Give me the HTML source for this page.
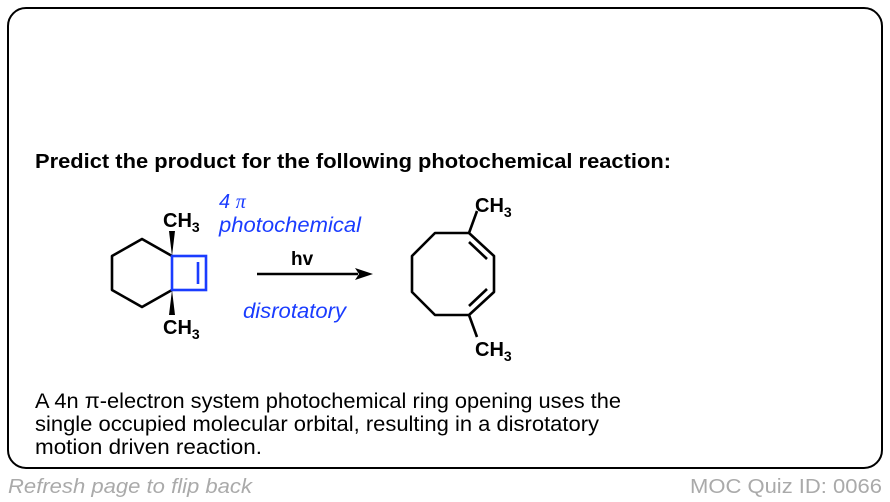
<!DOCTYPE html>
<html><head><meta charset="utf-8"><style>
html,body{margin:0;padding:0;background:#fff;}
svg{display:block;font-family:"Liberation Sans",Arial,sans-serif;}
</style></head><body>
<svg width="890" height="502" viewBox="0 0 890 502" xmlns="http://www.w3.org/2000/svg">
<rect x="8" y="8" width="874" height="460" rx="18" ry="18" fill="#fff" stroke="#000" stroke-width="2"/>
<text x="35" y="168" font-size="20" font-weight="bold" textLength="636" lengthAdjust="spacingAndGlyphs">Predict the product for the following photochemical reaction:</text>

<g stroke="#000" stroke-width="2.6" fill="none" stroke-linejoin="round">
<polyline points="172,256 142,239 112,256 112,290 142,307 172,290"/>
</g>
<g stroke="#1a3cff" stroke-width="2.6" fill="none">
<rect x="172" y="256" width="34" height="34"/>
<line x1="198" y1="262" x2="198" y2="284"/>
</g>
<polygon points="172,256 169,231 175,231" fill="#000"/>
<polygon points="172,290 169,315 175,315" fill="#000"/>
<text x="163" y="227" font-size="20" font-weight="bold">CH<tspan font-size="14" dy="5">3</tspan></text>
<text x="163" y="334" font-size="20" font-weight="bold">CH<tspan font-size="14" dy="5">3</tspan></text>

<text x="219" y="208" font-size="20" font-style="italic" fill="#1a3cff">4 <tspan font-family="Liberation Serif,serif">π</tspan></text>
<text x="219" y="232" font-size="21" font-style="italic" fill="#1a3cff" textLength="142" lengthAdjust="spacingAndGlyphs">photochemical</text>
<text x="291" y="265" font-size="19" font-weight="bold">hv</text>
<line x1="257" y1="274" x2="358" y2="274" stroke="#000" stroke-width="2.4"/>
<polygon points="373,274 355,268 359,274 355,280" fill="#000"/>
<text x="243" y="318" font-size="21" font-style="italic" fill="#1a3cff" textLength="103" lengthAdjust="spacingAndGlyphs">disrotatory</text>

<g stroke="#000" stroke-width="2.6" fill="none" stroke-linejoin="round">
<polygon points="469,233 435,233 412,256 412,292 435,315 469,315 494,292 494,256"/>
<line x1="469" y1="242" x2="487" y2="259"/>
<line x1="469" y1="306" x2="487" y2="289"/>
<line x1="469" y1="233" x2="477" y2="211"/>
<line x1="469" y1="315" x2="477" y2="337"/>
</g>
<text x="475" y="212" font-size="20" font-weight="bold">CH<tspan font-size="14" dy="5">3</tspan></text>
<text x="475" y="356" font-size="20" font-weight="bold">CH<tspan font-size="14" dy="5">3</tspan></text>

<text x="35" y="408" font-size="21" textLength="586" lengthAdjust="spacingAndGlyphs">A 4n π-electron system photochemical ring opening uses the</text>
<text x="35" y="431" font-size="21" textLength="564" lengthAdjust="spacingAndGlyphs">single occupied molecular orbital, resulting in a disrotatory</text>
<text x="35" y="454" font-size="21" textLength="227" lengthAdjust="spacingAndGlyphs">motion driven reaction.</text>

<text x="8" y="493" font-size="20" font-style="italic" fill="#aaa" textLength="244" lengthAdjust="spacingAndGlyphs">Refresh page to flip back</text>
<text x="690" y="493" font-size="20" fill="#aaa" textLength="192" lengthAdjust="spacingAndGlyphs">MOC Quiz ID: 0066</text>
</svg>
</body></html>
